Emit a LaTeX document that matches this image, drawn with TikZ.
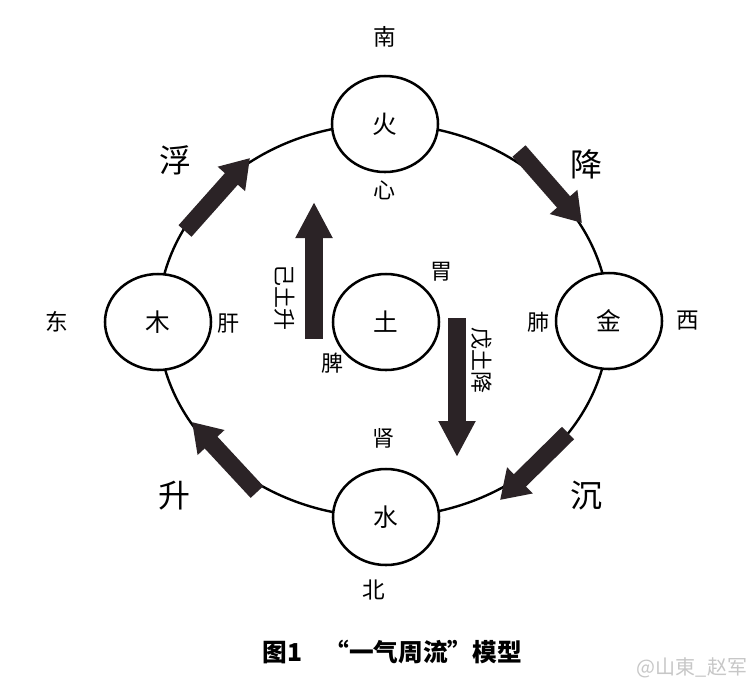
\documentclass[tikz,border=0pt]{standalone}
\usepackage{fontspec}
\setmainfont{Liberation Serif}
\newfontfamily\cjk{Noto Sans CJK SC}
\usetikzlibrary{shapes.geometric,arrows.meta}
\definecolor{arrowc}{RGB}{43,35,38}
\begin{document}
\begin{tikzpicture}[x=0.75pt,y=-0.75pt,
  elem/.style={draw, line width=1.9pt, ellipse, minimum width=79.5pt, minimum height=72pt, inner sep=0pt, fill=white, font=\cjk\fontsize{18.5}{18.5}\selectfont},
  lab/.style={font=\cjk\fontsize{16.5}{16.5}\selectfont},
  dirlab/.style={font=\cjk\fontsize{17}{17}\selectfont},
  flow/.style={font=\cjk\fontsize{24}{24}\selectfont},
  fatarc/.style={draw=arrowc, line width=13pt, -{Triangle[length=21pt,width=26pt]}},
  fatvert/.style={draw=arrowc, line width=13.5pt, -{Triangle[length=27pt,width=26pt]}},
  ]
\useasboundingbox (0,0) rectangle (749,687);
\fill[white] (0,0) rectangle (749,687);
% ring
\draw[line width=1.8pt] (383.5,320.5) ellipse [x radius=169.1pt, y radius=147.4pt];
% elements
\node[elem] (huo) at (385,124) {火};
\node[elem] (mu) at (158,322) {木};
\node[elem] (jin) at (609,321) {金};
\node[elem] (shui) at (386,517) {水};
\node[elem] (tu) at (386,322) {土};
% directions
\node[dirlab] (nan) at (385,37) {南};
\node[dirlab] (bei) at (374,590) {北};
\node[dirlab] (dong) at (57,322) {东};
\node[dirlab] (xi) at (688,321) {西};
% organs
\node[lab] (xin) at (384,190) {心};
\node[lab] (wei) at (441,272) {胃};
\node[lab] (pi) at (332,363) {脾};
\node[lab] (shen) at (383,438) {肾};
\node[lab] (gan) at (228,324) {肝};
\node[lab] (fei) at (538,322) {肺};
% flow words
\node[flow] (fu) at (175,160) {浮};
\node[flow] (jiang) at (586,164) {降};
\node[flow] (sheng) at (174,496) {升};
\node[flow] (chen) at (586,496) {沉};
% arc arrows
\coordinate (fuA) at (185,231);
\coordinate (fuB) at (250,158);
\coordinate (jiA) at (519,151);
\coordinate (jiB) at (582,223);
\coordinate (chA) at (568,433);
\coordinate (chB) at (500,500);
\coordinate (shA) at (257,492);
\coordinate (shB) at (192,422);
\draw[fatarc] (fuA) -- (fuB);
\draw[fatarc] (jiA) -- (jiB);
\draw[fatarc] (chA) -- (chB);
\draw[fatarc] (shA) -- (shB);
% earth arrows
\coordinate (jtA) at (314,339);
\coordinate (jtB) at (314,202);
\coordinate (wtA) at (457,318);
\coordinate (wtB) at (457,457);
\draw[fatvert] (jtA) -- (jtB);
\draw[fatvert] (wtA) -- (wtB);
\node[lab, rotate=-90] (jitu) at (285,297) {己土升};
\node[lab, rotate=-90] (wutu) at (482,360) {戊土降};
% caption
\node[font=\cjk\bfseries\fontsize{18.5}{18.5}\selectfont, anchor=west] (cap) at (258,652) {图1\hspace{0.9em}“一气周流”模型};
\node[font=\cjk\fontsize{15}{15}\selectfont, text=black!22] (wm) at (692,668) {@山東\_赵军};
\end{tikzpicture}
\end{document}
